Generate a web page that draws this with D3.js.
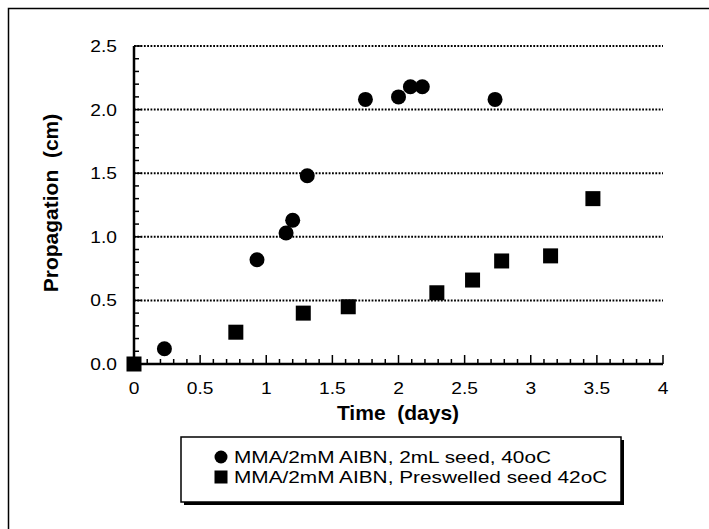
<!DOCTYPE html>
<html>
<head>
<meta charset="utf-8">
<script src="https://cdn.jsdelivr.net/npm/d3@7"></script>
<style>
  body { margin: 0; background: #fff; }
  text { font-family: "Liberation Sans", Arial, Helvetica, sans-serif; fill: #000; }
</style>
</head>
<body>
<div id="chart"></div>
<script>
// series 1: MMA/2mM AIBN, 2mL seed, 40oC
const seedTime = [0.23, 0.93, 1.15, 1.2, 1.31, 1.75, 2.0, 2.09, 2.18, 2.73];
const seedProp = [0.12, 0.82, 1.03, 1.13, 1.48, 2.08, 2.1, 2.18, 2.18, 2.08];
// series 2: MMA/2mM AIBN, Preswelled seed 42oC
const preTime = [0.0, 0.77, 1.28, 1.62, 2.29, 2.56, 2.78, 3.15, 3.47];
const preProp = [0.0, 0.25, 0.4, 0.45, 0.56, 0.66, 0.81, 0.85, 1.3];

const xTicks = [0, 0.5, 1, 1.5, 2, 2.5, 3, 3.5, 4];
const xTickLabels = ['0', '0.5', '1', '1.5', '2', '2.5', '3', '3.5', '4'];
const yTicks = [0, 0.5, 1.0, 1.5, 2.0, 2.5];
const yTickLabels = ['0.0', '0.5', '1.0', '1.5', '2.0', '2.5'];
const legendLabels = ['MMA/2mM AIBN, 2mL seed, 40oC', 'MMA/2mM AIBN, Preswelled seed 42oC'];

const width = 709, height = 529;
const svg = d3.select('#chart').append('svg')
  .attr('width', width)
  .attr('height', height);

// outer frame (only left and top show)
svg.append('path')
  .attr('d', 'M8.5,' + height + 'V8.5H' + width)
  .attr('fill', 'none')
  .attr('stroke', '#000')
  .attr('stroke-width', 1.5);

const x = d3.scaleLinear().domain([0, 4]).range([134, 663]);
const y = d3.scaleLinear().domain([0, 2.5]).range([364, 46]);

// dotted gridlines
svg.append('g').selectAll('line')
  .data(yTicks.filter(d => d > 0))
  .enter().append('line')
  .attr('x1', x(0)).attr('x2', x(4))
  .attr('y1', d => y(d)).attr('y2', d => y(d))
  .attr('stroke', '#000')
  .attr('stroke-width', 2)
  .attr('stroke-dasharray', '1.8,1.5');

// minor ticks
const minor = d3.range(0, 41).map(i => i / 10);
svg.append('g').selectAll('line')
  .data(minor)
  .enter().append('line')
  .attr('x1', d => x(d)).attr('x2', d => x(d))
  .attr('y1', y(0))
  .attr('y2', (d, i) => y(0) - (i % 5 === 0 ? 9 : 5))
  .attr('stroke', '#000')
  .attr('stroke-width', 1.5);

const minorY = d3.range(0, 26).map(i => i / 10);
svg.append('g').selectAll('line')
  .data(minorY)
  .enter().append('line')
  .attr('x1', x(0))
  .attr('x2', (d, i) => x(0) + (i % 5 === 0 ? 8 : 5))
  .attr('y1', d => y(d)).attr('y2', d => y(d))
  .attr('stroke', '#000')
  .attr('stroke-width', 1.5);

// axis lines
svg.append('line')
  .attr('x1', x(0)).attr('x2', x(4))
  .attr('y1', y(0)).attr('y2', y(0))
  .attr('stroke', '#000').attr('stroke-width', 2.5);
svg.append('line')
  .attr('x1', x(0)).attr('x2', x(0))
  .attr('y1', y(0)).attr('y2', y(2.5))
  .attr('stroke', '#000').attr('stroke-width', 2.5);

// tick labels (old mac fonts run wide, so stretch a bit)
svg.append('g').selectAll('text')
  .data(xTicks)
  .enter().append('text')
  .attr('transform', d => 'translate(' + x(d) + ',394) scale(1.2,1)')
  .attr('text-anchor', 'middle')
  .attr('font-size', 16)
  .text((d, i) => xTickLabels[i]);

svg.append('g').selectAll('text')
  .data(yTicks)
  .enter().append('text')
  .attr('transform', d => 'translate(117,' + (y(d) + 6) + ') scale(1.2,1)')
  .attr('text-anchor', 'end')
  .attr('font-size', 16)
  .text((d, i) => yTickLabels[i]);

// axis titles
svg.append('text')
  .attr('x', 398)
  .attr('y', 420)
  .attr('text-anchor', 'middle')
  .attr('font-size', 21)
  .attr('font-weight', 'bold')
  .attr('xml:space', 'preserve')
  .text('Time  (days)');

svg.append('text')
  .attr('transform', 'translate(58,' + 203 + ') rotate(-90)')
  .attr('text-anchor', 'middle')
  .attr('font-size', 21)
  .attr('font-weight', 'bold')
  .attr('xml:space', 'preserve')
  .text('Propagation  (cm)');

// data
svg.append('g').selectAll('circle')
  .data(seedTime)
  .enter().append('circle')
  .attr('cx', d => x(d))
  .attr('cy', (d, i) => y(seedProp[i]))
  .attr('r', 7.5)
  .attr('fill', '#000');

const sq = 15;
svg.append('g').selectAll('rect')
  .data(preTime)
  .enter().append('rect')
  .attr('x', d => x(d) - sq / 2)
  .attr('y', (d, i) => y(preProp[i]) - sq / 2)
  .attr('width', sq).attr('height', sq)
  .attr('fill', '#000');

// legend with drop shadow
const lg = svg.append('g');
lg.append('rect')
  .attr('x', 184).attr('y', 440)
  .attr('width', 440).attr('height', 65)
  .attr('fill', '#000');
lg.append('rect')
  .attr('x', 181).attr('y', 437)
  .attr('width', 440).attr('height', 65)
  .attr('fill', '#fff')
  .attr('stroke', '#000')
  .attr('stroke-width', 1.5);
lg.append('circle')
  .attr('cx', 221).attr('cy', 457)
  .attr('r', 6.5).attr('fill', '#000');
lg.append('rect')
  .attr('x', 214.5).attr('y', 470.5)
  .attr('width', 13).attr('height', 13)
  .attr('fill', '#000');
lg.selectAll('text.lab')
  .data(legendLabels)
  .enter().append('text')
  .attr('class', 'lab')
  .attr('transform', (d, i) => 'translate(234,' + (463 + i * 20) + ') scale(1.3,1)')
  .attr('font-size', 16)
  .text(d => d);
</script>
</body>
</html>
